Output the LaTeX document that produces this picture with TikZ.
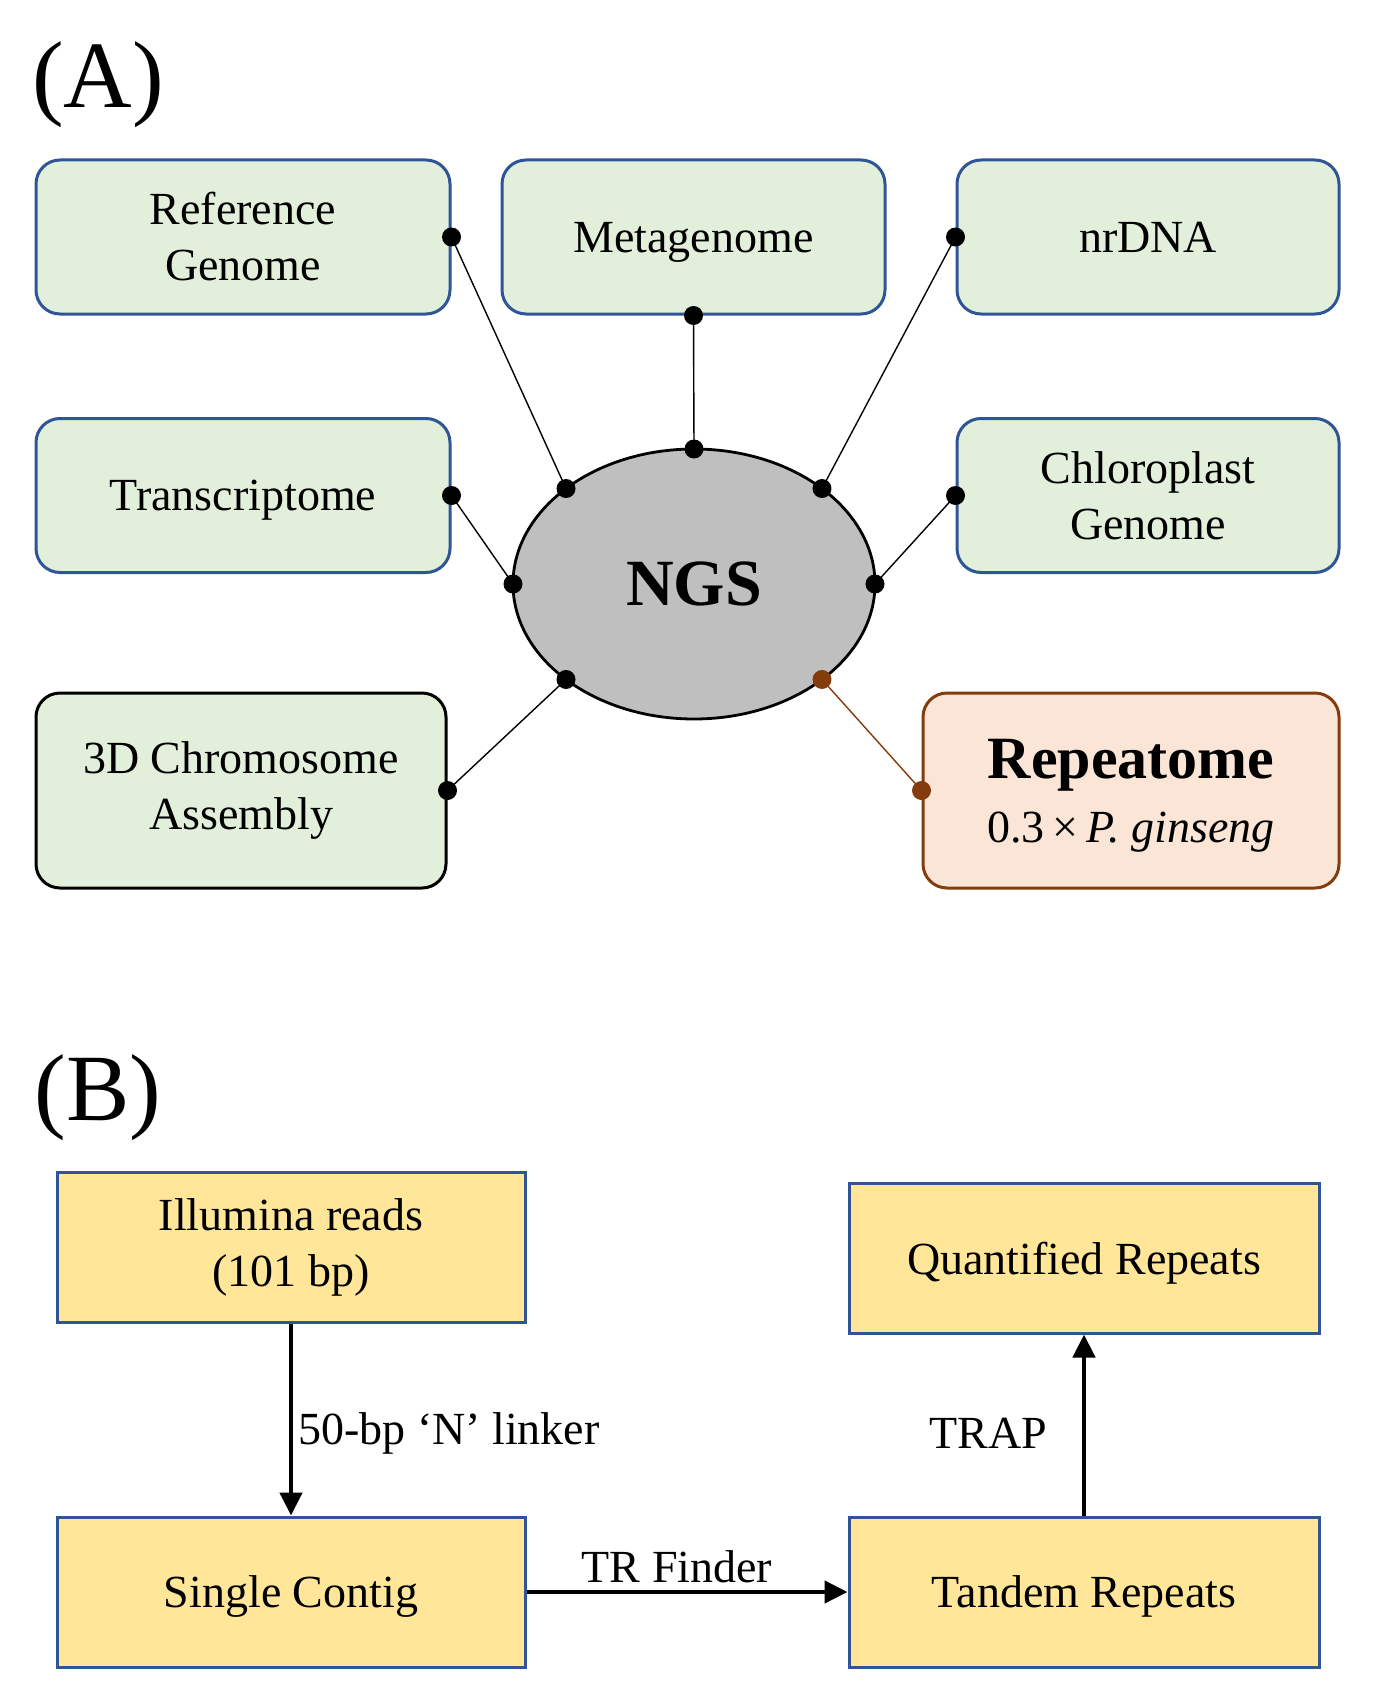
\documentclass[tikz,border=0pt]{standalone}
\usepackage{fontspec}
\setmainfont{Liberation Serif}
\usetikzlibrary{arrows.meta,calc}
\definecolor{gfill}{HTML}{E2EFDA}
\definecolor{bblue}{HTML}{2F5597}
\definecolor{rfill}{HTML}{FBE5D6}
\definecolor{rbrown}{HTML}{843C0C}
\definecolor{yfill}{HTML}{FFE699}
\definecolor{ngsfill}{HTML}{BFBFBF}
\begin{document}
\begin{tikzpicture}[x=1pt,y=-1pt,
  txt/.style={font=\fontsize{46}{56}\selectfont, align=center},
  gbox/.style={txt, draw=bblue, line width=3pt, fill=gfill, rounded corners=24pt, inner sep=0pt, minimum height=154pt},
  ybox/.style={txt, draw=bblue, line width=3pt, fill=yfill, inner sep=0pt, minimum width=468pt, minimum height=150pt},
  oneline/.style={text depth=0pt},
  conn/.style={line width=1.4pt, black},
  dotc/.style={fill=black, draw=none},
  flow/.style={line width=4.5pt, -{Triangle[length=23pt,width=22pt]}},
  lbl/.style={font=\fontsize{95}{100}\selectfont, inner sep=0pt},
  elbl/.style={font=\fontsize{46}{56}\selectfont, inner sep=0pt}
]
\useasboundingbox (0,0) rectangle (1374,1704);
% Panel labels
\node[lbl] (labA) at (98,85) {(A)};
\node[lbl] (labB) at (98,1098) {(B)};
% Panel A boxes
\node[gbox, minimum width=414pt] (ref) at (243,237) {Reference\\Genome};
\node[gbox, oneline, minimum width=383pt] (meta) at (693.5,237) {Metagenome};
\node[gbox, oneline, minimum width=382pt] (nr) at (1148,237) {nrDNA};
\node[gbox, oneline, minimum width=414pt] (trans) at (243,495.5) {Transcriptome};
\node[gbox, minimum width=382pt] (chl) at (1148,495.5) {Chloroplast\\Genome};
\node[gbox, draw=black, minimum width=410pt, minimum height=195pt] (chr) at (241,790.5) {3D Chromosome\\Assembly};
\node[gbox, draw=rbrown, fill=rfill, minimum width=416pt, minimum height=195pt, text depth=0pt, font=\fontsize{46}{62}\selectfont] (rep) at (1131,790.5) {{\fontsize{60}{62}\selectfont\bfseries Repeatome}\\[2pt]0.3\,×\,\textit{P. ginseng}};
% NGS ellipse
\draw[fill=ngsfill, line width=2.8pt] (694,584) ellipse [x radius=181pt, y radius=135pt];
\node[font=\fontsize{66}{70}\selectfont\bfseries, inner sep=0pt] (ngs) at (694,584) {NGS};
% ellipse connection points
\coordinate (e135) at ($(ngs.center)+(135:181pt and 135pt)$);
\coordinate (e90) at ($(ngs.center)+(90:181pt and 135pt)$);
\coordinate (e45) at ($(ngs.center)+(45:181pt and 135pt)$);
\coordinate (e180) at ($(ngs.center)+(180:181pt and 135pt)$);
\coordinate (e0) at ($(ngs.center)+(0:181pt and 135pt)$);
\coordinate (e225) at ($(ngs.center)+(225:181pt and 135pt)$);
\coordinate (e315) at ($(ngs.center)+(315:181pt and 135pt)$);
% connectors
\draw[conn] (ref.east) -- (e135);
\draw[conn] (meta.south) -- (e90);
\draw[conn] (nr.west) -- (e45);
\draw[conn] (trans.east) -- (e180);
\draw[conn] (chl.west) -- (e0);
\draw[conn] (chr.east) -- (e225);
\draw[conn, rbrown] (rep.west) -- (e315);
% dots
\foreach \p in {ref.east, meta.south, nr.west, trans.east, chl.west, chr.east, e135, e90, e45, e180, e0, e225}
  \fill[dotc] (\p) circle [radius=9.5pt];
\foreach \p in {rep.west, e315}
  \fill[rbrown] (\p) circle [radius=9.5pt];
% Panel B
\node[ybox] (ill) at (291,1247) {Illumina reads\\(101 bp)};
\node[ybox, oneline, minimum width=470pt] (quant) at (1084,1258) {Quantified Repeats};
\node[ybox, oneline] (single) at (291,1592) {Single Contig};
\node[ybox, oneline, minimum width=470pt] (tandem) at (1084,1592) {Tandem Repeats};
\draw[flow] (ill.south) -- (single.north);
\draw[flow] (single.east) -- (tandem.west);
\draw[flow] (tandem.north) -- (quant.south);
\node[elbl, anchor=west] (l1) at (298,1433) {50-bp ‘N’ linker};
\node[elbl] (l2) at (988,1433) {TRAP};
\node[elbl] (l3) at (677,1567) {TR Finder};
\end{tikzpicture}
\end{document}
